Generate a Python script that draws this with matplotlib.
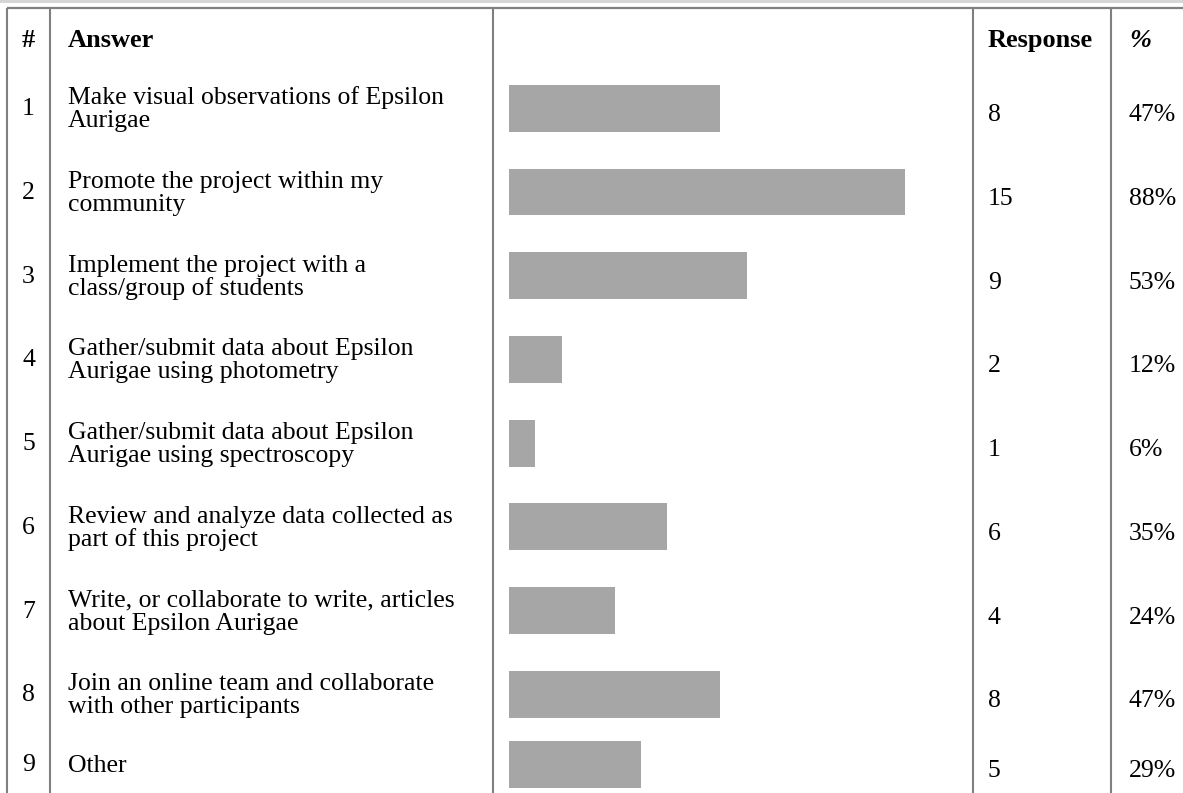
import matplotlib
matplotlib.use('Agg')
import matplotlib.pyplot as plt
from matplotlib.patches import Rectangle

# -------------------- DATA --------------------
answers = [
    "Make visual observations of Epsilon\nAurigae",
    "Promote the project within my\ncommunity",
    "Implement the project with a\nclass/group of students",
    "Gather/submit data about Epsilon\nAurigae using photometry",
    "Gather/submit data about Epsilon\nAurigae using spectroscopy",
    "Review and analyze data collected as\npart of this project",
    "Write, or collaborate to write, articles\nabout Epsilon Aurigae",
    "Join an online team and collaborate\nwith other participants",
    "Other",
]
responses = [8, 15, 9, 2, 1, 6, 4, 8, 5]
percents = [47, 88, 53, 12, 6, 35, 24, 47, 29]
n_total = 17
headers = ["#", "Answer", "Response", "%"]

# -------------------- LAYOUT (pixels) --------------------
W, H = 1183, 793
col_lines = [7, 50.5, 493.5, 973, 1111]
bar_left = 509
bar_max = 449
header_bottom = 66.5
row_h2 = 83.7
row_h1 = 56.3
line_color = "#808080"
bar_color = "#a6a6a6"
fs = 18.5
fs_bold = 19
family = ["Liberation Serif", "DejaVu Serif"]

fig = plt.figure(figsize=(W / 100, H / 100), dpi=100)
ax = fig.add_axes([0, 0, 1, 1])
ax.set_xlim(0, W)
ax.set_ylim(H, 0)
ax.axis("off")

# top band and top border
ax.add_patch(Rectangle((0, 0), W, 3, color="#d6d6d6", lw=0))
ax.plot([col_lines[0], W], [7.5, 7.5], color=line_color, lw=1.6, solid_capstyle="butt")
for x in col_lines:
    ax.plot([x, x], [7.5, H], color=line_color, lw=1.5, solid_capstyle="butt")

# -------------------- HEADER --------------------
hb = 47
ax.text(28.5, hb, headers[0], ha="center", va="baseline", fontsize=fs_bold,
        fontweight="bold", family=family)
ax.text(68, hb, headers[1], ha="left", va="baseline", fontsize=fs_bold,
        fontweight="bold", family=family)
ax.text(988, hb, headers[2], ha="left", va="baseline", fontsize=fs_bold,
        fontweight="bold", family=family)
ax.text(1129, hb, headers[3], ha="left", va="baseline", fontsize=fs_bold,
        fontweight="bold", fontstyle="italic", family=family)

# -------------------- ROWS --------------------
top = header_bottom
centers = []
for ans in answers:
    h = row_h2 if "\n" in ans else row_h1
    centers.append(top + h / 2)
    top += h

widths = [r / n_total * bar_max for r in responses]
ax.barh(centers, widths, left=bar_left, height=46.7, color=bar_color, lw=0)

for i, (ans, rc) in enumerate(zip(answers, centers)):
    ax.text(28.5, rc + 7, str(i + 1), ha="center", va="baseline", fontsize=fs, family=family)
    lines = ans.split("\n")
    if len(lines) == 2:
        ax.text(68, rc - 4, lines[0], ha="left", va="baseline", fontsize=fs, family=family)
        ax.text(68, rc + 19, lines[1], ha="left", va="baseline", fontsize=fs, family=family)
    else:
        ax.text(68, rc + 8, lines[0], ha="left", va="baseline", fontsize=fs, family=family)
    ax.text(988, rc + 13, str(responses[i]), ha="left", va="baseline", fontsize=fs, family=family)
    ax.text(1129, rc + 13, f"{percents[i]}%", ha="left", va="baseline", fontsize=fs, family=family)

fig.savefig("out.png", dpi=100)
plt.close(fig)
